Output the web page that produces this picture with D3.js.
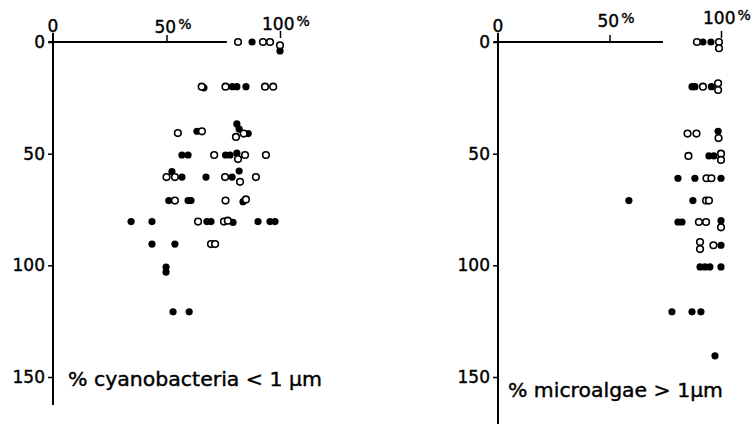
<!DOCTYPE html>
<html>
<head>
<meta charset="utf-8">
<script src="https://cdn.jsdelivr.net/npm/d3@7"></script>
<style>
  body { margin: 0; background: #fff; }
  svg { display: block; }
  text { font-family: "DejaVu Sans", sans-serif; fill: #000; stroke: #000; stroke-width: 0.4px; }
</style>
</head>
<body>
<svg id="chart" width="754" height="424"></svg>
<script>
// depth ticks (m) and percent ticks
const depthTicks = [0, 50, 100, 150];
const pctTicks = [50, 100];

// [percent, depth]
const cyanoFilled = [
  [87.7, 0], [100, 4],
  [66.5, 20.5], [79, 20], [81, 20], [85, 20],
  [63.4, 40], [81, 36.7], [82, 39], [86, 41],
  [56.8, 50.6], [59.5, 50.6], [76, 50.6], [78, 50.6], [81, 49.8],
  [52.4, 58], [56.8, 60.5], [67.4, 60.5], [78.9, 60.5], [82, 57.8],
  [51, 71], [59.5, 71], [60.8, 71], [83.7, 71.5],
  [34.4, 80.4], [43.6, 80.4], [67.8, 80.4], [69.6, 80.4], [79.3, 80.8], [90.3, 80.4], [95.6, 80.4], [97.8, 80.4],
  [43.6, 90.5], [53.7, 90.5],
  [49.8, 100.8], [49.8, 103],
  [52.9, 120.8], [60, 120.8]
];
const cyanoOpen = [
  [81.5, 0], [92.5, 0], [95.6, 0], [100, 1.5],
  [65.5, 20], [76, 20], [93.4, 20], [97, 20],
  [55, 40.8], [65.6, 40], [80.6, 42.5], [84, 41],
  [71, 50.6], [81.5, 52.4], [84.6, 50.6], [93.8, 50.6],
  [50, 60.5], [53.7, 60.5], [75.8, 60.5], [82.4, 62.6], [89.4, 60.5],
  [53.7, 71], [76, 71], [85, 70.5],
  [63.9, 80.4], [75.3, 80.4], [77, 80],
  [69.6, 90.5], [71.4, 90.5]
];
const algaeFilled = [
  [91.9, 0], [95.5, 0],
  [87, 20], [88.3, 20], [95.7, 20],
  [98.7, 40],
  [94.6, 51], [96.8, 51],
  [80.7, 61], [88.3, 61], [100, 61],
  [58.7, 71], [87.4, 71],
  [80.7, 80.6], [82.5, 80.6], [100, 80],
  [100, 91],
  [90.6, 100.7], [92.8, 100.7], [95, 100.7], [100, 100.7],
  [78, 120.8], [87, 120.8], [91, 120.8],
  [97.3, 140.5]
];
const algaeOpen = [
  [89.2, 0], [99.1, 0], [99.1, 2.8],
  [91.9, 20], [98.7, 18.5], [98.7, 21.5],
  [85, 41], [89, 41], [98.9, 43],
  [85.4, 51], [100, 50], [100, 52.8],
  [93.5, 61], [95.7, 61],
  [93.3, 71], [94.6, 71],
  [90.1, 80.6], [93.3, 80.6], [100, 83],
  [90.6, 89.6], [90.6, 92.7], [96.6, 91]
];

const svg = d3.select("#chart");

const panels = [
  { x0: 53, x1: 280, axisEnd: 76.6, yBottom: 405, filled: cyanoFilled, open: cyanoOpen,
    labelX: 68, labelY: 386, labelW: 254, label: "% cyanobacteria < 1 μm", topDy: 0 },
  { x0: 498, x1: 721, axisEnd: 74, yBottom: 424, filled: algaeFilled, open: algaeOpen,
    labelX: 508, labelY: 397, labelW: 215, label: "% microalgae > 1μm", topDy: -6 }
];

const y = d3.scaleLinear().domain([0, 150]).range([42, 377]);

panels.forEach(function(p) {
  const x = d3.scaleLinear().domain([0, 100]).range([p.x0, p.x1]);
  const g = svg.append("g");

  // axis lines
  g.append("line")
    .attr("x1", x(0)).attr("x2", x(0))
    .attr("y1", y(-4)).attr("y2", p.yBottom)
    .attr("stroke", "#000").attr("stroke-width", 2);
  g.append("line")
    .attr("x1", x(-2)).attr("x2", x(p.axisEnd))
    .attr("y1", y(0)).attr("y2", y(0))
    .attr("stroke", "#000").attr("stroke-width", 2);

  // depth ticks
  const yAxis = g.append("g")
    .attr("transform", `translate(${x(0)},0)`)
    .call(d3.axisLeft(y).tickValues(depthTicks).tickSize(5).tickPadding(3));
  yAxis.select(".domain").remove();
  yAxis.selectAll("line").attr("stroke", "#000").attr("stroke-width", 1.5);
  yAxis.selectAll("text")
    .attr("font-size", 17)
    .attr("font-family", "DejaVu Sans, sans-serif")
    .attr("fill", "#000");

  // percent ticks
  const xAxis = g.append("g")
    .attr("transform", `translate(0,${y(0)})`)
    .call(d3.axisTop(x).tickValues(pctTicks).tickSize(7).tickFormat(""));
  xAxis.select(".domain").remove();
  xAxis.selectAll("line").attr("stroke", "#000").attr("stroke-width", 1.5);
  xAxis.selectAll(".tick").filter(d => d === 100).select("line")
    .attr("y1", -4).attr("y2", -11);

  // percent labels
  g.append("text")
    .attr("x", x(0)).attr("y", 32)
    .attr("text-anchor", "middle").attr("font-size", 17)
    .text("0");
  pctTicks.forEach(function(v) {
    const t = g.append("text")
      .attr("x", x(v) - (v === 100 ? 18 : 12))
      .attr("y", (v === 100 ? 30 : 33) + p.topDy)
      .attr("font-size", 17);
    t.append("tspan").text(v);
    t.append("tspan").attr("dx", 2).attr("dy", -4).attr("font-size", 14).text("%");
  });

  // points
  g.selectAll(".filled")
    .data(p.filled)
    .join("circle")
    .attr("cx", d => x(d[0]))
    .attr("cy", d => y(d[1]))
    .attr("r", 3.6)
    .attr("fill", "#000");
  g.selectAll(".open")
    .data(p.open)
    .join("circle")
    .attr("cx", d => x(d[0]))
    .attr("cy", d => y(d[1]))
    .attr("r", 3.3)
    .attr("fill", "#fff")
    .attr("stroke", "#000")
    .attr("stroke-width", 1.6);

  // panel label
  g.append("text")
    .attr("x", p.labelX).attr("y", p.labelY)
    .attr("font-size", 19)
    .attr("textLength", p.labelW)
    .attr("lengthAdjust", "spacingAndGlyphs")
    .text(p.label);
});
</script>
</body>
</html>
